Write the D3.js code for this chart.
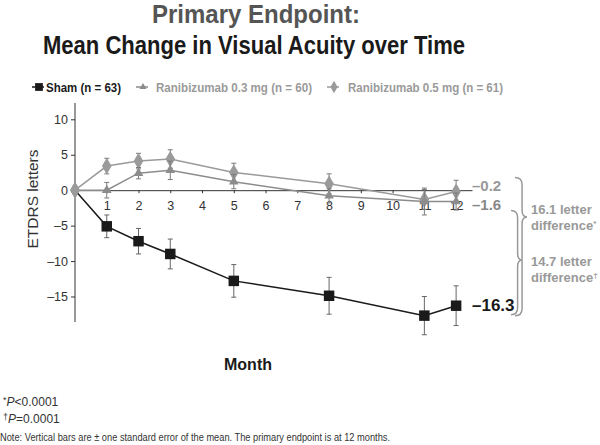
<!DOCTYPE html>
<html lang="en">
  <head>
    <meta charset="utf-8">
    <title>Primary Endpoint</title>
    <script src="https://cdn.jsdelivr.net/npm/d3@7"></script>
    <style>
      body { margin: 0; background: #fff; }
      svg text { font-family: "Liberation Sans", Arial, sans-serif; }
    </style>
  </head>
  <body>
    <script>

      // months where visual acuity was measured
      var months = [0, 1, 2, 3, 5, 8, 11, 12];

      // mean change (ETDRS letters) and standard error
      var shamMean = [0, -5.1, -7.2, -9.0, -12.8, -14.9, -17.7, -16.3];
      var shamSE   = [0, 1.6, 1.8, 2.1, 2.3, 2.6, 2.7, 2.8];
      var r03Mean  = [0, 0.0, 2.4, 2.8, 1.2, -0.8, -1.6, -1.6];
      var r03SE    = [0, 1.1, 0.8, 1.3, 1.0, 1.0, 1.9, 1.2];
      var r05Mean  = [0, 3.4, 4.1, 4.4, 2.5, 0.9, -1.3, -0.2];
      var r05SE    = [0, 1.1, 1.1, 1.3, 1.3, 1.4, 1.4, 1.6];

      var seriesNames = ["Sham (n = 63)", "Ranibizumab 0.3 mg (n = 60)", "Ranibizumab 0.5 mg (n = 61)"];
      var xTicks = [1, 2, 3, 4, 5, 6, 7, 8, 9, 10, 11, 12];
      var yTicks = [10, 5, 0, -5, -10, -15];

      var w = 600, h = 445;

      var svg = d3.select("body").append("svg")
          .attr("width", w)
          .attr("height", h);

      var xScale = d3.scaleLinear().domain([0, 12.5]).range([75, 472]);
      var yScale = d3.scaleLinear().domain([-18.6, 12.3]).range([322, 103]);

      var dash = function(v) { return v < 0 ? "\u2013" + Math.abs(v) : String(v); };

      //Titles
      svg.append("text")
        .attr("x", 256).attr("y", 23)
        .attr("text-anchor", "middle")
        .attr("font-size", 26).attr("font-weight", "bold")
        .attr("fill", "#555")
        .attr("textLength", 208).attr("lengthAdjust", "spacingAndGlyphs")
        .text("Primary Endpoint:");

      svg.append("text")
        .attr("x", 254).attr("y", 54)
        .attr("text-anchor", "middle")
        .attr("font-size", 26).attr("font-weight", "bold")
        .attr("fill", "#1a1a1a")
        .attr("textLength", 422).attr("lengthAdjust", "spacingAndGlyphs")
        .text("Mean Change in Visual Acuity over Time");

      //Series definitions
      var series = [
        { name: seriesNames[0], mean: shamMean, se: shamSE, color: "#1a1a1a", bar: "#666", shape: d3.symbolSquare, size: 110 },
        { name: seriesNames[1], mean: r03Mean, se: r03SE, color: "#8c8c8c", bar: "#7a7a7a", shape: d3.symbolTriangle, size: 40 },
        { name: seriesNames[2], mean: r05Mean, se: r05SE, color: "#9a9a9a", bar: "#7a7a7a", shape: d3.symbolDiamond, size: 80 }
      ];

      //Legend
      var legendX = [[32, 46, 75, "#1a1a1a"], [136, 156, 156, "#9a9a9a"], [327, 348, 155, "#9a9a9a"]];
      series.forEach(function(s, i) {
        var lg = svg.append("g");
        lg.append("line")
          .attr("x1", legendX[i][0]).attr("x2", legendX[i][0] + 12)
          .attr("y1", 87).attr("y2", 87)
          .attr("stroke", s.color).attr("stroke-width", 1.5);
        lg.append("path")
          .attr("d", d3.symbol().type(s.shape).size(s.size * 0.55))
          .attr("transform", "translate(" + (legendX[i][0] + 7) + ",87)")
          .attr("fill", s.color);
        lg.append("text")
          .attr("x", legendX[i][1]).attr("y", 92)
          .attr("font-size", 13).attr("font-weight", "bold")
          .attr("fill", legendX[i][3])
          .attr("textLength", legendX[i][2]).attr("lengthAdjust", "spacingAndGlyphs")
          .text(s.name);
      });

      //Y axis
      var yAxis = d3.axisLeft(yScale)
          .tickValues(yTicks)
          .tickSize(4)
          .tickFormat(dash);

      var gy = svg.append("g")
        .attr("transform", "translate(" + xScale(0) + ",0)")
        .call(yAxis);
      gy.select(".domain").attr("d", "M0," + yScale.range()[0] + "V" + yScale.range()[1]).attr("stroke", "#333");
      gy.selectAll(".tick line").attr("stroke", "#333");
      gy.selectAll(".tick text").attr("font-size", 12.5).attr("fill", "#333").attr("x", -7)
        .style("font-family", "Liberation Sans, Arial, sans-serif");

      //X axis at y = 0
      var xAxis = d3.axisBottom(xScale)
          .tickValues(xTicks)
          .tickSize(3)
          .tickSizeOuter(0);

      var gx = svg.append("g")
        .attr("transform", "translate(0," + yScale(0) + ")")
        .call(xAxis);
      gx.select(".domain").attr("stroke", "#333");
      gx.selectAll(".tick line").attr("stroke", "#333");
      gx.selectAll(".tick text").attr("font-size", 12.5).attr("fill", "#333").attr("y", 11)
        .style("font-family", "Liberation Sans, Arial, sans-serif");

      //Axis titles
      svg.append("text")
        .attr("transform", "translate(38,199) rotate(-90)")
        .attr("text-anchor", "middle")
        .attr("font-size", 15.5)
        .attr("fill", "#333")
        .text("ETDRS letters");

      svg.append("text")
        .attr("x", 248).attr("y", 370)
        .attr("text-anchor", "middle")
        .attr("font-size", 16).attr("font-weight", "bold")
        .attr("fill", "#1a1a1a")
        .text("Month");

      //Lines, error bars, markers (draw lighter series first, sham on top)
      var line = d3.line()
          .x(function(d) { return xScale(d.m); })
          .y(function(d) { return yScale(d.v); });

      [2, 1, 0].forEach(function(i) {
        var s = series[i];
        var pts = months.map(function(m, j) { return { m: m, v: s.mean[j], e: s.se[j] }; });
        var g = svg.append("g");

        g.append("path")
          .datum(pts)
          .attr("fill", "none")
          .attr("stroke", s.color)
          .attr("stroke-width", 1.5)
          .attr("d", line);

        var bars = g.selectAll(".err")
          .data(pts.filter(function(d) { return d.e > 0; }))
          .enter().append("g");

        bars.append("line")
          .attr("x1", function(d) { return xScale(d.m); })
          .attr("x2", function(d) { return xScale(d.m); })
          .attr("y1", function(d) { return yScale(d.v + d.e); })
          .attr("y2", function(d) { return yScale(d.v - d.e); })
          .attr("stroke", s.bar).attr("stroke-width", 1);

        [1, -1].forEach(function(sign) {
          bars.append("line")
            .attr("x1", function(d) { return xScale(d.m) - 2.5; })
            .attr("x2", function(d) { return xScale(d.m) + 2.5; })
            .attr("y1", function(d) { return yScale(d.v + sign * d.e); })
            .attr("y2", function(d) { return yScale(d.v + sign * d.e); })
            .attr("stroke", s.bar).attr("stroke-width", 1);
        });

        g.selectAll(".pt")
          .data(pts)
          .enter().append("path")
          .attr("d", function(d) { return d3.symbol().type(d.m === 0 ? d3.symbolDiamond : s.shape).size(d.m === 0 ? 80 : s.size)(); })
          .attr("transform", function(d) { return "translate(" + xScale(d.m) + "," + yScale(d.v) + ")"; })
          .attr("fill", function(d) { return d.m === 0 ? "#9a9a9a" : s.color; });
      });

      //End values at month 12
      var endLabels = [
        { v: r05Mean[7], dy: -1, size: 15, color: "#999" },
        { v: r03Mean[7], dy: 8, size: 15, color: "#888" },
        { v: shamMean[7], dy: 5, size: 17, color: "#1a1a1a" }
      ];
      endLabels.forEach(function(d) {
        svg.append("text")
          .attr("x", 472).attr("y", yScale(d.v) + d.dy)
          .attr("font-size", d.size).attr("font-weight", "bold")
          .attr("fill", d.color)
          .text(dash(d.v));
      });

      //Braces
      function brace(x, yTop, yBot, yTip, depth) {
        var xv = x + depth * 0.45;
        return "M" + (x - 3) + "," + yTop +
          "Q" + xv + "," + yTop + " " + xv + "," + (yTop + 7) +
          "L" + xv + "," + (yTip - 7) +
          "Q" + xv + "," + yTip + " " + (x + depth) + "," + yTip +
          "Q" + xv + "," + yTip + " " + xv + "," + (yTip + 7) +
          "L" + xv + "," + (yBot - 7) +
          "Q" + xv + "," + yBot + " " + (x - 3) + "," + yBot;
      }

      svg.append("path")
        .attr("d", brace(518, yScale(r05Mean[7]) - 14, yScale(shamMean[7]) + 10, 217, 9))
        .attr("fill", "none").attr("stroke", "#999").attr("stroke-width", 1.5);
      svg.append("path")
        .attr("d", brace(514, yScale(r03Mean[7]) + 9, yScale(shamMean[7]) + 9, 260, 8))
        .attr("fill", "none").attr("stroke", "#999").attr("stroke-width", 1.5);

      var diffs = [[shamMean[7], r05Mean[7], 214, "*"], [shamMean[7], r03Mean[7], 266, "\u2020"]];
      diffs.forEach(function(d) {
        var t = svg.append("text")
          .attr("x", 531).attr("y", d[2])
          .attr("font-size", 13).attr("font-weight", "bold")
          .attr("fill", "#999");
        t.append("tspan").attr("x", 531).text(Math.abs(d[1] - d[0]).toFixed(1) + " letter");
        t.append("tspan").attr("x", 531).attr("dy", 16).text("difference");
        t.append("tspan").attr("font-size", 8).attr("dy", -4).text(d[3]);
      });

      //Footnotes
      var fn = [["*", "<0.0001", 406], ["\u2020", "=0.0001", 423]];
      fn.forEach(function(f) {
        var t = svg.append("text")
          .attr("x", 3).attr("y", f[2])
          .attr("font-size", 12).attr("fill", "#333");
        t.append("tspan").attr("font-size", 9).attr("dy", -3).text(f[0]);
        t.append("tspan").attr("font-style", "italic").attr("dy", 3).text("P");
        t.append("tspan").text(f[1]);
      });

      svg.append("text")
        .attr("x", 0).attr("y", 441)
        .attr("font-size", 10.5).attr("fill", "#333")
        .attr("textLength", 390).attr("lengthAdjust", "spacingAndGlyphs")
        .text("Note: Vertical bars are \u00b1 one standard error of the mean. The primary endpoint is at 12 months.");

    </script>
  </body>
</html>
